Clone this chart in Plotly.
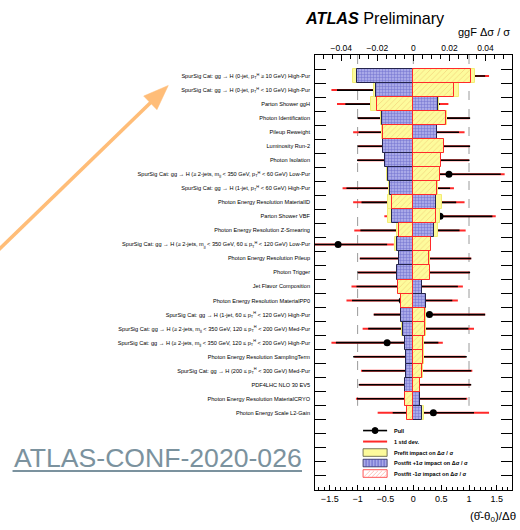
import plotly.graph_objects as go

# Nuisance parameters, ranked by impact on the ggF cross section
labels = [
    "SpurSig Cat: gg → H (0-jet, p<sub>T</sub><sup>H</sup> ≥ 10 GeV) High-Pur",
    "SpurSig Cat: gg → H (0-jet, p<sub>T</sub><sup>H</sup> < 10 GeV) High-Pur",
    "Parton Shower ggH",
    "Photon Identification",
    "Pileup Reweight",
    "Luminosity Run-2",
    "Photon Isolation",
    "SpurSig Cat: gg → H (≥ 2-jets, m<sub>jj</sub> < 350 GeV, p<sub>T</sub><sup>H</sup> < 60 GeV) Low-Pur",
    "SpurSig Cat: gg → H (1-jet, p<sub>T</sub><sup>H</sup> < 60 GeV) High-Pur",
    "Photon Energy Resolution MaterialID",
    "Parton Shower VBF",
    "Photon Energy Resolution Z-Smearing",
    "SpurSig Cat: gg → H (≥ 2-jets, m<sub>jj</sub> < 350 GeV, 60 ≤ p<sub>T</sub><sup>H</sup> < 120 GeV) Low-Pur",
    "Photon Energy Resolution Pileup",
    "Photon Trigger",
    "Jet Flavor Composition",
    "Photon Energy Resolution MaterialPP0",
    "SpurSig Cat: gg → H (1-jet, 60 ≤ p<sub>T</sub><sup>H</sup> < 120 GeV) High-Pur",
    "SpurSig Cat: gg → H (≥ 2-jets, m<sub>jj</sub> < 350 GeV, 120 ≤ p<sub>T</sub><sup>H</sup> < 200 GeV) Med-Pur",
    "SpurSig Cat: gg → H (≥ 2-jets, m<sub>jj</sub> < 350 GeV, 120 ≤ p<sub>T</sub><sup>H</sup> < 200 GeV) High-Pur",
    "Photon Energy Resolution SamplingTerm",
    "SpurSig Cat: gg → H (200 ≤ p<sub>T</sub><sup>H</sup> < 300 GeV) Med-Pur",
    "PDF4LHC NLO 30 EV5",
    "Photon Energy Resolution MaterialCRYO",
    "Photon Energy Scale L2-Gain",
]

# Pulls (theta_hat - theta_0)/Delta_theta and their post-fit errors
pull = [0.36, -0.47, -0.37, 0.01, -0.08, 0.01, 0.00, 0.64, -0.27, -0.08,
        0.48, -0.06, -1.35, 0.04, 0.01, -0.11, -0.20, 0.29, 0.09, -0.47,
        -0.06, 0.06, 0.03, -0.03, 0.36]
pull_err = [0.93, 0.90, 0.85, 1.01, 0.90, 1.01, 1.01, 0.93, 0.93, 0.85,
            0.94, 0.89, 0.88, 1.00, 1.01, 0.91, 0.90, 1.00, 0.90, 0.92,
            1.02, 0.98, 1.01, 0.98, 0.73]

# Impacts on ggF delta sigma / sigma
post_up = [-0.0311, -0.0208, 0.0136, -0.0176, 0.0133, -0.0167, -0.0156, -0.0142,
           -0.0130, 0.0125, -0.0121, 0.0116, -0.0089, -0.0078, -0.0089, 0.0049,
           0.0070, -0.0069, -0.0059, -0.0046, -0.0041, -0.0041, -0.0044, 0.0037,
           0.0046]
post_down = [0.0319, 0.0223, -0.0203, 0.0182, -0.0171, 0.0171, 0.0154, 0.0148,
             0.0133, -0.0119, 0.0124, -0.0081, 0.0098, 0.0089, 0.0093, -0.0085,
             -0.0068, 0.0067, 0.0067, 0.0055, 0.0055, 0.0050, 0.0037, -0.0045,
             -0.0034]
pre_up = [-0.0335, -0.0221, 0.0141, -0.0179, 0.0133, -0.0167, -0.0156, -0.0145,
          -0.0133, 0.0157, -0.0139, 0.0139, -0.0102, -0.0079, -0.0089, 0.0050,
          0.0072, -0.0070, -0.0062, -0.0049, -0.0042, -0.0042, -0.0045, 0.0038,
          0.0059]
pre_down = [0.0341, 0.0251, -0.0237, 0.0184, -0.0176, 0.0171, 0.0155, 0.0150,
            0.0136, -0.0139, 0.0147, -0.0093, 0.0099, 0.0090, 0.0094, -0.0086,
            -0.0071, 0.0068, 0.0070, 0.0057, 0.0057, 0.0051, 0.0038, -0.0046,
            -0.0037]

pull_ticks = [-1.5, -1, -0.5, 0, 0.5, 1, 1.5]
impact_ticks = [-0.04, -0.02, 0, 0.02, 0.04]

rows = [i + 1.5 for i in range(len(labels))]
n_slots = 31

FONT = "Liberation Sans, Arial, Helvetica, sans-serif"
W, H = 520, 530
PL, PR, PT, PB = 315, 511.7, 54.5, 490


def fx(x):
    return (x - PL) / (PR - PL)


def fy(y):
    return (PB - y) / (PB - PT)


def fmt(v):
    s = ("%g" % abs(v))
    return ("\u2212" + s) if v < 0 else s


YELLOW = "#fdfb9c"
YELLOW_EDGE = "#f2ec74"
BLUE_BG = "#a9a9e8"
BLUE_FG = "#3a3ab4"
BLUE_EDGE = "#24244e"
RED = "#ff2a2a"

fig = go.Figure()

# Prefit impact boxes
for vals in (pre_up, pre_down):
    fig.add_trace(go.Bar(
        orientation="h", y=rows, x=vals, base=0, width=1.0,
        xaxis="x2", yaxis="y",
        marker=dict(color=YELLOW, line=dict(color=YELLOW_EDGE, width=1)),
        showlegend=False, hoverinfo="skip",
    ))

# Postfit +1 sigma impact
fig.add_trace(go.Bar(
    orientation="h", y=rows, x=post_up, base=0, width=1.0,
    xaxis="x2", yaxis="y",
    marker=dict(color=BLUE_BG,
                pattern=dict(shape="+", fgcolor=BLUE_FG, size=3, solidity=0.3,
                             fillmode="overlay"),
                line=dict(color=BLUE_EDGE, width=1)),
    showlegend=False, hoverinfo="skip",
))

# Postfit -1 sigma impact
fig.add_trace(go.Bar(
    orientation="h", y=rows, x=post_down, base=0, width=1.0,
    xaxis="x2", yaxis="y",
    marker=dict(color="rgba(0,0,0,0)",
                pattern=dict(shape="/", fgcolor="#e9b060", size=4, solidity=0.2,
                             fillmode="overlay"),
                line=dict(color=RED, width=1)),
    showlegend=False, hoverinfo="skip",
))

# 1 std dev band around each pull
fig.add_trace(go.Scatter(
    x=pull, y=rows, mode="markers", xaxis="x", yaxis="y",
    marker=dict(size=1, color="rgba(0,0,0,0)"),
    error_x=dict(type="data", array=[1.0] * len(pull), color=RED,
                 thickness=2, width=0),
    showlegend=False, hoverinfo="skip",
))

# Pulls with post-fit constraints
fig.add_trace(go.Scatter(
    x=pull, y=rows, mode="markers", xaxis="x", yaxis="y",
    marker=dict(size=7, color="black"),
    error_x=dict(type="data", array=pull_err, color="black",
                 thickness=1.6, width=0),
    showlegend=False, hoverinfo="skip",
))

shapes = []
# Dashed reference lines at pull -1, 0, +1
for v in (-1, 0, 1):
    shapes.append(dict(type="line", xref="x", yref="y", x0=v, x1=v, y0=0, y1=25,
                       line=dict(color="#9a9a9a", width=1, dash="dash"),
                       layer="below"))

annotations = []

# Legend block inside the frame
leg_x0, leg_x1, leg_tx = 363, 387, 392
leg_y = [430.5, 441.5, 452.5, 463, 473.5]
leg_text = [
    "Pull",
    "1 std dev.",
    "Prefit impact on Δσ / σ",
    "Postfit +1σ impact on Δσ / σ",
    "Postfit -1σ impact on Δσ / σ",
]
shapes.append(dict(type="line", xref="paper", yref="paper",
                   x0=fx(leg_x0), x1=fx(leg_x1), y0=fy(leg_y[0]), y1=fy(leg_y[0]),
                   line=dict(color="black", width=1.6)))
shapes.append(dict(type="circle", xref="paper", yref="paper",
                   x0=fx(372), x1=fx(378), y0=fy(leg_y[0] + 3), y1=fy(leg_y[0] - 3),
                   fillcolor="black", line=dict(color="black", width=1)))
shapes.append(dict(type="line", xref="paper", yref="paper",
                   x0=fx(leg_x0), x1=fx(leg_x1), y0=fy(leg_y[1]), y1=fy(leg_y[1]),
                   line=dict(color=RED, width=2)))
box_h = 3.8
shapes.append(dict(type="rect", xref="paper", yref="paper",
                   x0=fx(leg_x0), x1=fx(leg_x1),
                   y0=fy(leg_y[2] + box_h), y1=fy(leg_y[2] - box_h),
                   fillcolor=YELLOW, line=dict(color="#55553a", width=0.8)))
shapes.append(dict(type="rect", xref="paper", yref="paper",
                   x0=fx(leg_x0), x1=fx(leg_x1),
                   y0=fy(leg_y[3] + box_h), y1=fy(leg_y[3] - box_h),
                   fillcolor=BLUE_BG, line=dict(color=BLUE_EDGE, width=0.8)))
for k in range(1, 8):
    xa = leg_x0 + 3 * k
    shapes.append(dict(type="line", xref="paper", yref="paper",
                       x0=fx(xa), x1=fx(xa), y0=fy(leg_y[3] + box_h), y1=fy(leg_y[3] - box_h),
                       line=dict(color=BLUE_FG, width=0.6)))
shapes.append(dict(type="rect", xref="paper", yref="paper",
                   x0=fx(leg_x0), x1=fx(leg_x1),
                   y0=fy(leg_y[4] + box_h), y1=fy(leg_y[4] - box_h),
                   fillcolor="white", line=dict(color=RED, width=0.8)))
for k in range(0, 6):
    xa = leg_x0 + 1 + 4 * k
    xb = min(xa + 6, leg_x1 - 0.5)
    shapes.append(dict(type="line", xref="paper", yref="paper",
                       x0=fx(xa), x1=fx(xb), y0=fy(leg_y[4] + box_h - 0.6),
                       y1=fy(leg_y[4] + box_h - 0.6 - (xb - xa)),
                       line=dict(color="#ff9a8a", width=0.6)))
for yv, t in zip(leg_y, leg_text):
    annotations.append(dict(text="<b>" + t + "</b>", xref="paper", yref="paper",
                            x=fx(leg_tx), y=fy(yv), xanchor="left", yanchor="middle",
                            showarrow=False, font=dict(family=FONT, size=5.5, color="black")))

# Header texts
annotations.append(dict(text="<b><i>ATLAS</i></b> Preliminary", xref="paper", yref="paper",
                        x=fx(303), y=fy(17.5), xanchor="left", yanchor="middle",
                        showarrow=False, font=dict(family=FONT, size=16.2, color="black")))
annotations.append(dict(text="ggF Δσ / σ", xref="paper", yref="paper",
                        x=fx(512), y=fy(31), xanchor="right", yanchor="middle",
                        showarrow=False, font=dict(family=FONT, size=11, color="black")))
annotations.append(dict(text="(θ\u0302-θ<sub>0</sub>)/Δθ", xref="paper", yref="paper",
                        x=fx(518), y=fy(517), xanchor="right", yanchor="middle",
                        showarrow=False, font=dict(family=FONT, size=11.5, color="black")))

# Document reference with underline
annotations.append(dict(text="ATLAS-CONF-2020-026", xref="paper", yref="paper",
                        x=fx(12), y=fy(458), xanchor="left", yanchor="middle",
                        showarrow=False, font=dict(family=FONT, size=26.6, color="#7b929e")))
shapes.append(dict(type="line", xref="paper", yref="paper",
                   x0=fx(13), x1=fx(302), y0=fy(471), y1=fy(471),
                   line=dict(color="#7b929e", width=2.2)))

# Orange pointer arrow
ORANGE = "#ffbd78"
tip = (168.5, 85.0)
ux, uy = 0.718, -0.697
hl, hw = 25.0, 9.5
bx, by = tip[0] - hl * ux, tip[1] - hl * uy
nx, ny = -uy, ux
tail_t = (bx + 10) / ux
tail = (bx - tail_t * ux, by - tail_t * uy)
shapes.append(dict(type="line", xref="paper", yref="paper",
                   x0=fx(tail[0]), y0=fy(tail[1]), x1=fx(bx + 2 * ux), y1=fy(by + 2 * uy),
                   line=dict(color=ORANGE, width=3.6)))
c1 = (bx + hw * nx, by + hw * ny)
c2 = (bx - hw * nx, by - hw * ny)
path = "M {} {} L {} {} L {} {} Z".format(fx(tip[0]), fy(tip[1]), fx(c1[0]), fy(c1[1]),
                                          fx(c2[0]), fy(c2[1]))
shapes.append(dict(type="path", xref="paper", yref="paper", path=path,
                   fillcolor=ORANGE, line=dict(color=ORANGE, width=0.5)))

axis_font = dict(family=FONT, size=9, color="black")

fig.update_layout(
    width=W, height=H,
    margin=dict(l=PL, r=W - PR, t=PT, b=H - PB, pad=0),
    paper_bgcolor="white", plot_bgcolor="white",
    barmode="overlay", bargap=0,
    showlegend=False,
    xaxis=dict(
        range=[-1.765, 1.772], side="bottom", anchor="y",
        tickmode="array", tickvals=pull_ticks, ticktext=[fmt(v) for v in pull_ticks],
        ticks="inside", ticklen=5, tickcolor="black", tickwidth=1,
        minor=dict(ticks="inside", ticklen=3, dtick=0.1, tick0=0, tickcolor="black"),
        showline=True, linecolor="black", linewidth=1, mirror=False,
        showgrid=False, zeroline=False, tickfont=axis_font,
    ),
    xaxis2=dict(
        range=[-0.0546, 0.0547], side="top", overlaying="x", anchor="y",
        tickmode="array", tickvals=impact_ticks, ticktext=[fmt(v) for v in impact_ticks],
        ticks="inside", ticklen=6, tickcolor="black", tickwidth=1,
        minor=dict(ticks="inside", ticklen=3.5, dtick=0.005, tick0=0, tickcolor="black"),
        showline=True, linecolor="black", linewidth=1,
        showgrid=False, zeroline=False, tickfont=dict(family=FONT, size=8.5, color="black"),
    ),
    yaxis=dict(
        range=[n_slots, 0], anchor="x",
        tickmode="array", tickvals=rows, ticktext=labels,
        ticks="", ticklabelstandoff=4,
        showline=False, showgrid=False, zeroline=False,
        tickfont=dict(family=FONT, size=5.6, color="black"),
    ),
    yaxis2=dict(
        range=[n_slots, 0], overlaying="y", anchor="x", side="left",
        tickmode="array", tickvals=list(range(1, n_slots)),
        ticks="inside", ticklen=11, tickcolor="black", tickwidth=1,
        showticklabels=False, showline=True, linecolor="black", linewidth=1,
        mirror="ticks", showgrid=False, zeroline=False,
    ),
    shapes=shapes,
    annotations=annotations,
)

# Anchor trace so the tick overlay axis is rendered
fig.add_trace(go.Scatter(x=[None], y=[None], xaxis="x", yaxis="y2",
                         showlegend=False, hoverinfo="skip"))

fig.write_html("out.html")
